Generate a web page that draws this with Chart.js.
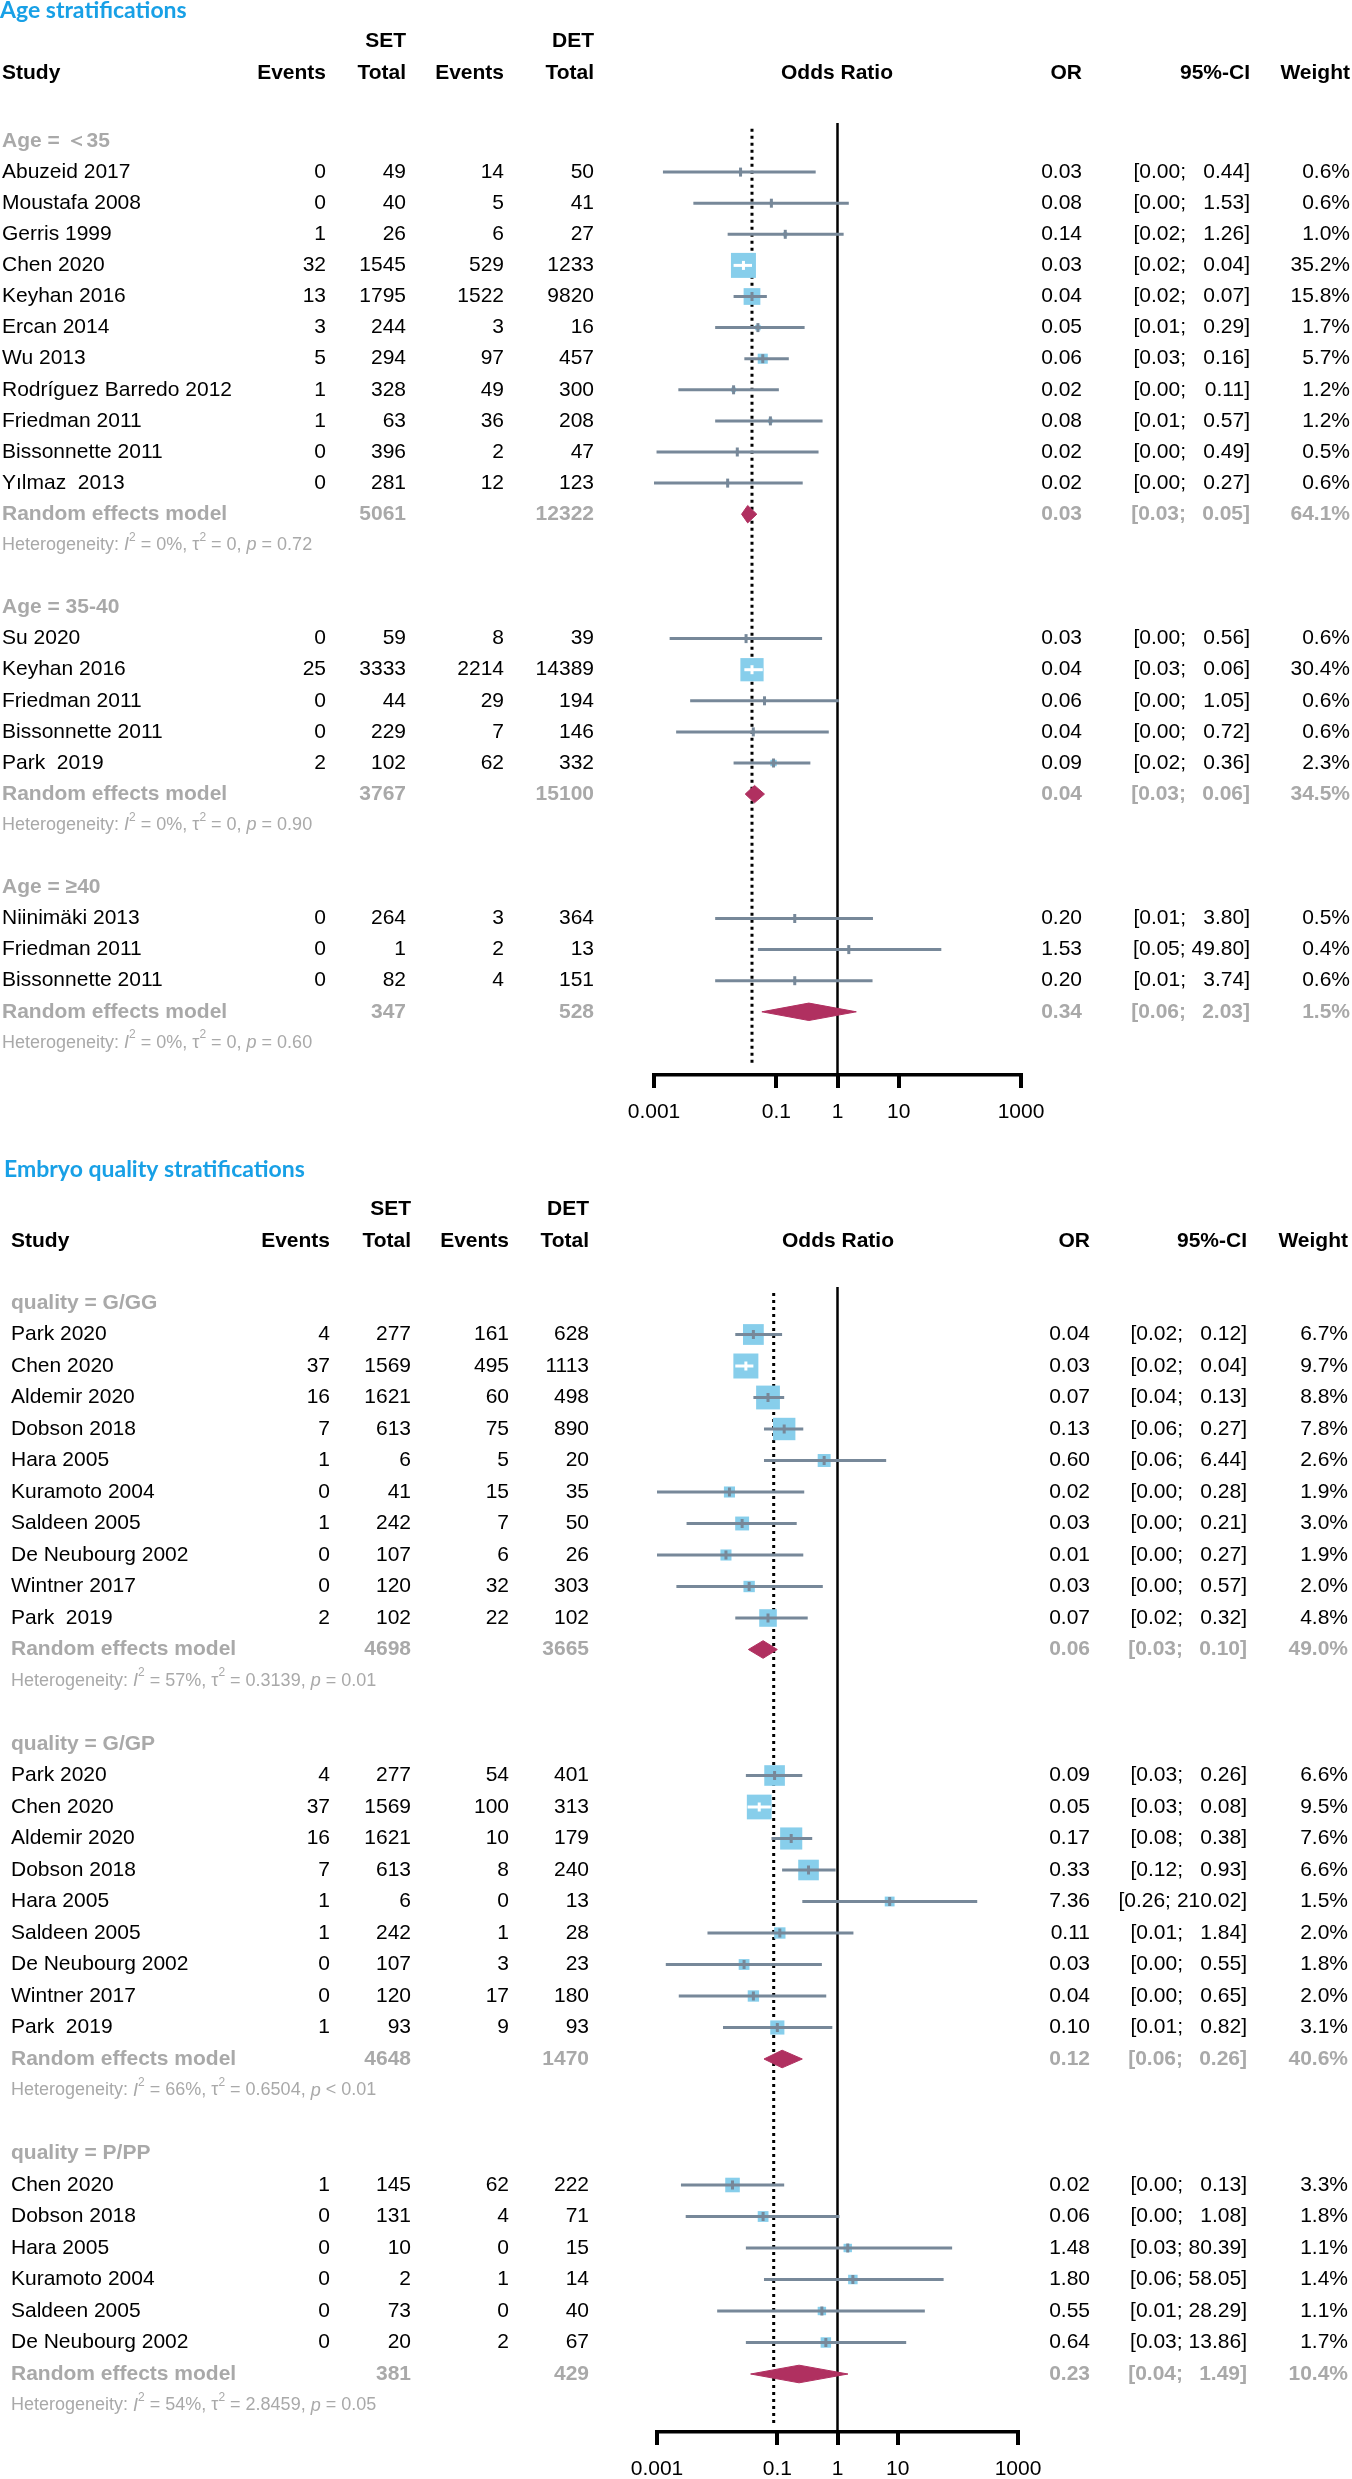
<!DOCTYPE html>
<html>
<head>
<meta charset="utf-8">
<script src="https://cdn.jsdelivr.net/npm/chart.js@4.4.0/dist/chart.umd.min.js"></script>
<style>
  body { margin: 0; background: #fff; }
  #wrap { position: relative; width: 1352px; height: 2479px; }
  canvas { position: absolute; left: 0; }
</style>
</head>
<body>
<div id="wrap">
  <canvas id="age" width="1352" height="1140" style="top:0"></canvas>
  <canvas id="quality" width="1352" height="1339" style="top:1140px"></canvas>
</div>
<script>
// ---------- axis ----------
const tickValues = [0.001, 0.1, 1, 10, 1000];
const tickLabels = ["0.001", "0.1", "1", "10", "1000"];

// ---------- Age stratifications ----------
const ageTitle = "Age stratifications";
const ageGroups = ["Age = ＜35", "Age = 35-40", "Age = ≥40"];
const ageGroupOf = [0, 0, 0, 0, 0, 0, 0, 0, 0, 0, 0, 1, 1, 1, 1, 1, 2, 2, 2];
const ageStudies = ["Abuzeid 2017", "Moustafa 2008", "Gerris 1999", "Chen 2020", "Keyhan 2016",
  "Ercan 2014", "Wu 2013", "Rodríguez Barredo 2012", "Friedman 2011", "Bissonnette 2011", "Yılmaz  2013",
  "Su 2020", "Keyhan 2016", "Friedman 2011", "Bissonnette 2011", "Park  2019",
  "Niinimäki 2013", "Friedman 2011", "Bissonnette 2011"];
const ageSetEvents = [0, 0, 1, 32, 13, 3, 5, 1, 1, 0, 0, 0, 25, 0, 0, 2, 0, 0, 0];
const ageSetTotal = [49, 40, 26, 1545, 1795, 244, 294, 328, 63, 396, 281, 59, 3333, 44, 229, 102, 264, 1, 82];
const ageDetEvents = [14, 5, 6, 529, 1522, 3, 97, 49, 36, 2, 12, 8, 2214, 29, 7, 62, 3, 2, 4];
const ageDetTotal = [50, 41, 27, 1233, 9820, 16, 457, 300, 208, 47, 123, 39, 14389, 194, 146, 332, 364, 13, 151];
const ageOR = [0.026, 0.083, 0.14, 0.029, 0.04, 0.05, 0.06, 0.02, 0.08, 0.023, 0.016,
  0.032, 0.04, 0.064, 0.042, 0.09, 0.2, 1.53, 0.2];
const ageLower = [0.0014, 0.0044, 0.016, 0.02, 0.02, 0.01, 0.03, 0.0025, 0.01, 0.0011, 0.0009,
  0.0018, 0.03, 0.0039, 0.0023, 0.02, 0.01, 0.05, 0.01];
const ageUpper = [0.44, 1.53, 1.26, 0.04, 0.07, 0.29, 0.16, 0.11, 0.57, 0.49, 0.27,
  0.56, 0.06, 1.05, 0.72, 0.36, 3.80, 49.80, 3.74];
const ageWeight = [0.6, 0.6, 1.0, 35.2, 15.8, 1.7, 5.7, 1.2, 1.2, 0.5, 0.6, 0.6, 30.4, 0.6, 0.6, 2.3, 0.5, 0.4, 0.6];
const ageRandOR = [0.034, 0.044, 0.34];
const ageRandLower = [0.027, 0.031, 0.058];
const ageRandUpper = [0.048, 0.064, 2.03];
const ageRandWeight = [64.1, 34.5, 1.5];
const ageRandSet = [5061, 3767, 347];
const ageRandDet = [12322, 15100, 528];
const ageI2 = ["0%", "0%", "0%"];
const ageTau2 = ["0", "0", "0"];
const ageP = ["= 0.72", "= 0.90", "= 0.60"];
const ageOverall = 0.04;

// ---------- Embryo quality stratifications ----------
const qualTitle = "Embryo quality stratifications";
const qualGroups = ["quality = G/GG", "quality = G/GP", "quality = P/PP"];
const qualGroupOf = [0, 0, 0, 0, 0, 0, 0, 0, 0, 0, 1, 1, 1, 1, 1, 1, 1, 1, 1, 2, 2, 2, 2, 2, 2];
const qualStudies = ["Park 2020", "Chen 2020", "Aldemir 2020", "Dobson 2018", "Hara 2005", "Kuramoto 2004",
  "Saldeen 2005", "De Neubourg 2002", "Wintner 2017", "Park  2019",
  "Park 2020", "Chen 2020", "Aldemir 2020", "Dobson 2018", "Hara 2005", "Saldeen 2005",
  "De Neubourg 2002", "Wintner 2017", "Park  2019",
  "Chen 2020", "Dobson 2018", "Hara 2005", "Kuramoto 2004", "Saldeen 2005", "De Neubourg 2002"];
const qualSetEvents = [4, 37, 16, 7, 1, 0, 1, 0, 0, 2, 4, 37, 16, 7, 1, 1, 0, 0, 1, 1, 0, 0, 0, 0, 0];
const qualSetTotal = [277, 1569, 1621, 613, 6, 41, 242, 107, 120, 102, 277, 1569, 1621, 613, 6, 242, 107, 120, 93,
  145, 131, 10, 2, 73, 20];
const qualDetEvents = [161, 495, 60, 75, 5, 15, 7, 6, 32, 22, 54, 100, 10, 8, 0, 1, 3, 17, 9, 62, 4, 0, 1, 0, 2];
const qualDetTotal = [628, 1113, 498, 890, 20, 35, 50, 26, 303, 102, 401, 313, 179, 240, 13, 28, 23, 180, 93,
  222, 71, 15, 14, 40, 67];
const qualOR = [0.04, 0.03, 0.07, 0.13, 0.60, 0.016, 0.026, 0.014, 0.034, 0.07,
  0.09, 0.05, 0.17, 0.33, 7.36, 0.11, 0.028, 0.04, 0.10,
  0.018, 0.058, 1.48, 1.80, 0.55, 0.64];
const qualLower = [0.02, 0.02, 0.04, 0.06, 0.06, 0.00095, 0.0031, 0.0008, 0.0021, 0.02,
  0.03, 0.032, 0.08, 0.12, 0.26, 0.0069, 0.0014, 0.0023, 0.0125,
  0.0025, 0.003, 0.03, 0.06, 0.01, 0.03];
const qualUpper = [0.12, 0.04, 0.13, 0.27, 6.44, 0.28, 0.21, 0.27, 0.57, 0.32,
  0.26, 0.078, 0.38, 0.93, 210.02, 1.84, 0.55, 0.65, 0.82,
  0.13, 1.08, 80.39, 58.05, 28.29, 13.86];
const qualWeight = [6.7, 9.7, 8.8, 7.8, 2.6, 1.9, 3.0, 1.9, 2.0, 4.8,
  6.6, 9.5, 7.6, 6.6, 1.5, 2.0, 1.8, 2.0, 3.1,
  3.3, 1.8, 1.1, 1.4, 1.1, 1.7];
const qualRandOR = [0.058, 0.12, 0.23];
const qualRandLower = [0.033, 0.06, 0.036];
const qualRandUpper = [0.10, 0.26, 1.49];
const qualRandWeight = [49.0, 40.6, 10.4];
const qualRandSet = [4698, 4648, 381];
const qualRandDet = [3665, 1470, 429];
const qualI2 = ["57%", "66%", "54%"];
const qualTau2 = ["0.3139", "0.6504", "2.8459"];
const qualP = ["= 0.01", "< 0.01", "= 0.05"];
const qualOverall = 0.087;

// ---------- styles ----------
const SLATE = "#778899";
const SKY = "#87ceeb";
const MAROON = "#b03060";
const GREY = "#a9a9a9";
const BLUE = "#18a0e6";
const FAM = '"Liberation Sans", Arial, sans-serif';
const F_REG = `21px ${FAM}`;
const F_BOLD = `bold 21px ${FAM}`;
const TICK_LEN = 13;

function put(ctx, txt, x, y, align, font, color) {
  ctx.font = font;
  ctx.fillStyle = color;
  ctx.textAlign = align;
  ctx.fillText(txt, x, y);
}

function drawHet(ctx, x, y, i2, tau2, p) {
  const base = `18px ${FAM}`;
  const ital = `italic 18px ${FAM}`;
  const sup = `12px ${FAM}`;
  const parts = [
    ["Heterogeneity: ", base, 0], ["I", ital, 0], ["2", sup, -8], [" = " + i2 + ", ", base, 0],
    ["τ", base, 0], ["2", sup, -8], [" = " + tau2 + ", ", base, 0], ["p", ital, 0], [" " + p, base, 0],
  ];
  ctx.textAlign = "left";
  ctx.fillStyle = GREY;
  let cx = x;
  parts.forEach(([t, f, dy]) => {
    ctx.font = f;
    ctx.fillText(t, cx, y + dy);
    cx += ctx.measureText(t).width;
  });
}

function makeChart(id, sec, lay) {
  const studyRow = [], headRow = [], randRow = [], hetRow = [];
  let r = 0;
  sec.groups.forEach((g, gi) => {
    headRow.push(r);
    r++;
    sec.groupOf.forEach((gg, i) => {
      if (gg === gi) {
        studyRow[i] = r;
        r++;
      }
    });
    randRow.push(r);
    hetRow.push(r + 1);
    r += 3;
  });

  const yMin = -lay.headY / lay.rowH;
  const yMax = (lay.axisY - lay.headY) / lay.rowH;
  const maxW = Math.max(...sec.weight);
  const side = sec.weight.map(w => lay.maxSquare * Math.sqrt(w / maxW));
  const inside = (c, i) => {
    const x = c.chart.scales.x;
    return x.getPixelForValue(sec.upper[i]) - x.getPixelForValue(sec.lower[i]) < side[i];
  };

  const datasets = [];
  // line of no effect
  datasets.push({type: "line", data: [{x: 1, y: lay.solidTop}, {x: 1, y: yMax}],
    borderColor: "#000", borderWidth: 2.5, pointRadius: 0, fill: false, order: 6});
  // overall estimate
  datasets.push({type: "line", data: [{x: sec.overall, y: lay.dotTop}, {x: sec.overall, y: lay.dotBottom}],
    borderColor: "#000", borderWidth: 3, borderDash: [3, 4], pointRadius: 0, fill: false, order: 5});
  // weight squares
  datasets.push({type: "scatter", data: sec.or.map((v, i) => ({x: v, y: studyRow[i]})),
    pointStyle: "rect", pointRadius: c => side[c.dataIndex] / Math.SQRT2,
    backgroundColor: SKY, borderWidth: 0, order: 4});
  // confidence intervals
  sec.or.forEach((v, i) => {
    datasets.push({type: "line", data: [{x: sec.lower[i], y: studyRow[i]}, {x: sec.upper[i], y: studyRow[i]}],
      borderColor: c => (inside(c, i) ? "#fff" : SLATE), borderWidth: 3, pointRadius: 0, fill: false, order: 3});
  });
  // point estimates
  datasets.push({type: "scatter", data: sec.or.map((v, i) => ({x: v, y: studyRow[i]})),
    pointStyle: "line", rotation: 90, pointRadius: 4.5, borderWidth: 3,
    borderColor: c => (inside(c, c.dataIndex) ? "#fff" : SLATE), order: 2});
  // pooled diamonds
  sec.randOR.forEach((v, g) => {
    const y = randRow[g];
    datasets.push({type: "line",
      data: [{x: sec.randLower[g], y}, {x: v, y: y - lay.dia}, {x: sec.randUpper[g], y},
        {x: v, y: y + lay.dia}, {x: sec.randLower[g], y}],
      borderColor: MAROON, backgroundColor: MAROON, borderWidth: 1, pointRadius: 0,
      tension: 0, fill: "shape", order: 1});
  });

  const table = {
    id: "table",
    afterDraw(chart) {
      const ctx = chart.ctx;
      const Y = v => chart.scales.y.getPixelForValue(v);
      const c = lay.cols;
      ctx.save();

      // tick marks under the axis, placed by the x scale
      const xs = chart.scales.x;
      const axisY = chart.chartArea.bottom;
      ctx.strokeStyle = "#000";
      ctx.lineWidth = 4;
      xs.ticks.forEach(t => {
        const px = Math.round(xs.getPixelForValue(t.value));
        ctx.beginPath();
        ctx.moveTo(px, axisY - 1);
        ctx.lineTo(px, axisY + TICK_LEN);
        ctx.stroke();
      });

      ctx.textBaseline = "middle";
      put(ctx, sec.title, lay.titleX, Y(lay.titleRow), "left", `bold ${lay.titleSize}px Lato, ${FAM}`, BLUE);

      put(ctx, "SET", c[1], Y(lay.setRow), "right", F_BOLD, "#000");
      put(ctx, "DET", c[3], Y(lay.setRow), "right", F_BOLD, "#000");
      const hy = Y(lay.headRow);
      put(ctx, "Study", lay.studyX, hy, "left", F_BOLD, "#000");
      put(ctx, "Events", c[0], hy, "right", F_BOLD, "#000");
      put(ctx, "Total", c[1], hy, "right", F_BOLD, "#000");
      put(ctx, "Events", c[2], hy, "right", F_BOLD, "#000");
      put(ctx, "Total", c[3], hy, "right", F_BOLD, "#000");
      put(ctx, "Odds Ratio", lay.orHeadX, hy, "center", F_BOLD, "#000");
      put(ctx, "OR", lay.orX, hy, "right", F_BOLD, "#000");
      put(ctx, "95%-CI", lay.ciHiX, hy, "right", F_BOLD, "#000");
      put(ctx, "Weight", lay.wX, hy, "right", F_BOLD, "#000");

      const rightCols = (y, or, lo, hi, w, font, color) => {
        const hiText = hi.toFixed(2) + "]";
        put(ctx, or.toFixed(2), lay.orX, y, "right", font, color);
        put(ctx, hiText, lay.ciHiX, y, "right", font, color);
        ctx.font = font;
        const loRight = Math.min(lay.ciLoX, lay.ciHiX - ctx.measureText(hiText).width - 6);
        put(ctx, "[" + lo.toFixed(2) + ";", loRight, y, "right", font, color);
        put(ctx, w.toFixed(1) + "%", lay.wX, y, "right", font, color);
      };

      sec.studies.forEach((name, i) => {
        const y = Y(studyRow[i]);
        put(ctx, name, lay.studyX, y, "left", F_REG, "#000");
        put(ctx, String(sec.setEvents[i]), c[0], y, "right", F_REG, "#000");
        put(ctx, String(sec.setTotal[i]), c[1], y, "right", F_REG, "#000");
        put(ctx, String(sec.detEvents[i]), c[2], y, "right", F_REG, "#000");
        put(ctx, String(sec.detTotal[i]), c[3], y, "right", F_REG, "#000");
        rightCols(y, sec.or[i], sec.lower[i], sec.upper[i], sec.weight[i], F_REG, "#000");
      });

      sec.groups.forEach((g, gi) => {
        put(ctx, g, lay.studyX, Y(headRow[gi]), "left", F_BOLD, GREY);
        const y = Y(randRow[gi]);
        put(ctx, "Random effects model", lay.studyX, y, "left", F_BOLD, GREY);
        put(ctx, String(sec.randSet[gi]), c[1], y, "right", F_BOLD, GREY);
        put(ctx, String(sec.randDet[gi]), c[3], y, "right", F_BOLD, GREY);
        rightCols(y, sec.randOR[gi], sec.randLower[gi], sec.randUpper[gi], sec.randWeight[gi], F_BOLD, GREY);
        drawHet(ctx, lay.studyX, Y(hetRow[gi]), sec.i2[gi], sec.tau2[gi], sec.p[gi]);
      });
      ctx.restore();
    },
  };

  return new Chart(document.getElementById(id), {
    type: "scatter",
    data: {datasets},
    options: {
      responsive: false,
      animation: false,
      devicePixelRatio: 1,
      events: [],
      layout: {autoPadding: false, padding: {left: lay.plotLeft, right: 1352 - lay.plotRight, top: 0, bottom: 0}},
      plugins: {legend: {display: false}, tooltip: {enabled: false}},
      scales: {
        x: {
          type: "logarithmic",
          min: 0.001,
          max: 1000,
          afterBuildTicks: s => { s.ticks = tickValues.map(v => ({value: v})); },
          afterFit: s => { s.height = lay.canvasH - lay.axisY; },
          ticks: {
            callback: (v, i) => tickLabels[i],
            autoSkip: false,
            maxRotation: 0,
            padding: 12,
            color: "#000",
            font: {size: 21, family: FAM},
          },
          grid: {display: true, drawOnChartArea: false, drawTicks: true, tickLength: TICK_LEN,
            color: "#000", lineWidth: 4, tickWidth: 4, tickColor: "#000"},
          border: {display: true, color: "#000", width: 3.5},
        },
        y: {type: "linear", display: false, min: yMin, max: yMax, reverse: true},
      },
    },
    plugins: [table],
  });
}

const ageSection = {
  title: ageTitle, groups: ageGroups, groupOf: ageGroupOf, studies: ageStudies,
  setEvents: ageSetEvents, setTotal: ageSetTotal, detEvents: ageDetEvents, detTotal: ageDetTotal,
  or: ageOR, lower: ageLower, upper: ageUpper, weight: ageWeight,
  randOR: ageRandOR, randLower: ageRandLower, randUpper: ageRandUpper, randWeight: ageRandWeight,
  randSet: ageRandSet, randDet: ageRandDet, i2: ageI2, tau2: ageTau2, p: ageP, overall: ageOverall,
};
const qualSection = {
  title: qualTitle, groups: qualGroups, groupOf: qualGroupOf, studies: qualStudies,
  setEvents: qualSetEvents, setTotal: qualSetTotal, detEvents: qualDetEvents, detTotal: qualDetTotal,
  or: qualOR, lower: qualLower, upper: qualUpper, weight: qualWeight,
  randOR: qualRandOR, randLower: qualRandLower, randUpper: qualRandUpper, randWeight: qualRandWeight,
  randSet: qualRandSet, randDet: qualRandDet, i2: qualI2, tau2: qualTau2, p: qualP, overall: qualOverall,
};

makeChart("age", ageSection, {
  canvasH: 1140, headY: 141, rowH: 31.1, axisY: 1075,
  titleRow: -4.2, setRow: -3.22, headRow: -2.19,
  solidTop: -0.58, dotTop: -0.39, dotBottom: 29.77,
  plotLeft: 654, plotRight: 1021, maxSquare: 25, dia: 0.28,
  titleX: 0, titleSize: 23, studyX: 2, cols: [326, 406, 504, 594],
  orHeadX: 837, orX: 1082, ciLoX: 1186, ciHiX: 1250, wX: 1350,
});
makeChart("quality", qualSection, {
  canvasH: 1339, headY: 163, rowH: 31.5, axisY: 1292,
  titleRow: -4.22, setRow: -2.98, headRow: -1.97,
  solidTop: -0.51, dotTop: -0.32, dotBottom: 35.56,
  plotLeft: 657, plotRight: 1018, maxSquare: 25, dia: 0.28,
  titleX: 4, titleSize: 23, studyX: 11, cols: [330, 411, 509, 589],
  orHeadX: 838, orX: 1090, ciLoX: 1183, ciHiX: 1247, wX: 1348,
});
</script>
</body>
</html>
